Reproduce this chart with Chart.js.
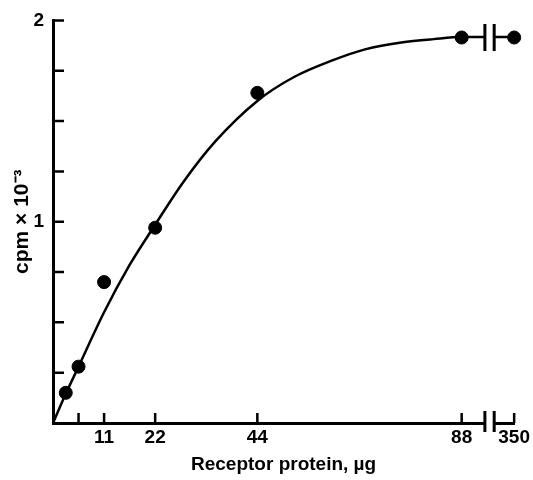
<!DOCTYPE html>
<html>
<head>
<meta charset="utf-8">
<script src="https://cdn.jsdelivr.net/npm/chart.js@4/dist/chart.umd.min.js"></script>
<style>
  html, body { margin: 0; padding: 0; background: #fff; }
  canvas { display: block; }
</style>
</head>
<body>
<canvas id="chart" width="533" height="480"></canvas>
<script>
// Measured points (receptor protein, µg vs cpm x 10^-3)
const doses = [2.75, 5.5, 11, 22, 44, 88, 350]
const cpm = [0.15, 0.28, 0.70, 0.97, 1.64, 1.915, 1.915]

// Hand-drawn saturation curve
const fitDoses = [0, 2.75, 5.5, 11, 16.5, 22, 28, 35, 44, 52, 60, 67, 75, 82, 88, 350]
const fitCpm = [0, 0.145, 0.28, 0.55, 0.785, 0.985, 1.195, 1.40, 1.60, 1.72, 1.80, 1.855, 1.89, 1.907, 1.917, 1.917]

const xTickValues = [5.5, 11, 22, 44, 88, 350]
const xTickLabels = ['', '11', '22', '44', '88', '350']
const yTickValues = [0, 0.25, 0.5, 0.75, 1, 1.25, 1.5, 1.75, 2]
const yTickLabels = ['', '', '', '', '1', '', '', '', '2']

// Broken x axis: everything past 88 is squeezed to one spot after the break
const LAST_LINEAR = 88
const BREAK_FROM = 93
const BREAK_TO = 95
const BREAK_POS = 99.3

function xPos (v) {
  return v > LAST_LINEAR ? BREAK_POS : v
}

const FONT = { family: '"Liberation Sans", Arial, sans-serif', size: 19, weight: 'bold' }

const axisBreak = {
  id: 'axisBreak',
  afterDatasetsDraw (chart) {
    const { ctx, chartArea, scales: { x, y } } = chart
    const x0 = x.getPixelForValue(BREAK_FROM)
    const x1 = x.getPixelForValue(BREAK_TO)
    const top = chartArea.top
    const bottom = chartArea.bottom
    const left = chartArea.left

    ctx.save()
    // gap in the curve and the axis
    ctx.fillStyle = '#fff'
    ctx.fillRect(x0, top - 10, x1 - x0, bottom - top + 14)

    ctx.strokeStyle = '#000'
    ctx.lineWidth = 3
    ctx.lineCap = 'butt'

    // break marks on the curve and on the axis
    const yc = y.getPixelForValue(fitCpm[fitCpm.length - 1])
    ctx.beginPath()
    for (const px of [x0, x1]) {
      ctx.moveTo(px, yc - 13)
      ctx.lineTo(px, yc + 14)
      ctx.moveTo(px, bottom - 12)
      ctx.lineTo(px, bottom + 9)
    }
    ctx.stroke()

    // inward tick marks
    ctx.lineWidth = 2.5
    ctx.beginPath()
    for (const v of yTickValues) {
      if (v === 0) continue
      const py = y.getPixelForValue(v)
      ctx.moveTo(left, py)
      ctx.lineTo(left + 11, py)
    }
    for (const v of xTickValues) {
      const px = x.getPixelForValue(xPos(v))
      ctx.moveTo(px, bottom)
      ctx.lineTo(px, bottom - 10)
    }
    ctx.stroke()
    ctx.restore()
  }
}

new Chart(document.getElementById('chart'), {
  type: 'scatter',
  data: {
    datasets: [
      {
        label: 'fit',
        data: fitDoses.map((d, i) => ({ x: xPos(d), y: fitCpm[i] })),
        showLine: true,
        borderColor: '#000',
        borderWidth: 2.5,
        pointRadius: 0,
        cubicInterpolationMode: 'monotone',
        clip: false
      },
      {
        label: 'measured',
        data: doses.map((d, i) => ({ x: xPos(d), y: cpm[i] })),
        showLine: false,
        backgroundColor: '#000',
        borderColor: '#000',
        pointRadius: 6.5,
        clip: false
      }
    ]
  },
  options: {
    responsive: false,
    animation: false,
    devicePixelRatio: 1,
    layout: { padding: { top: 16, right: 18, left: 0, bottom: 0 } },
    plugins: {
      legend: { display: false },
      tooltip: { enabled: false }
    },
    scales: {
      x: {
        type: 'linear',
        min: 0,
        max: BREAK_POS,
        afterFit (scale) { scale.height = 57 },
        afterBuildTicks (scale) {
          scale.ticks = xTickValues.map(v => ({ value: xPos(v) }))
        },
        grid: { drawOnChartArea: false, drawTicks: false },
        border: { display: true, color: '#000', width: 3 },
        ticks: {
          autoSkip: false,
          maxRotation: 0,
          padding: 3,
          color: '#000',
          font: FONT,
          callback: (value, index) => xTickLabels[index]
        },
        title: {
          display: true,
          text: 'Receptor protein, µg',
          color: '#000',
          font: FONT,
          padding: { top: 0, bottom: 4 }
        }
      },
      y: {
        type: 'linear',
        min: 0,
        max: 2,
        afterFit (scale) { scale.width = 53 },
        afterBuildTicks (scale) {
          scale.ticks = yTickValues.map(v => ({ value: v }))
        },
        grid: { drawOnChartArea: false, drawTicks: false },
        border: { display: true, color: '#000', width: 3 },
        ticks: {
          autoSkip: false,
          padding: 9,
          color: '#000',
          font: FONT,
          callback: (value, index) => yTickLabels[index]
        },
        title: {
          display: true,
          text: 'cpm × 10⁻³',
          color: '#000',
          font: { ...FONT, size: 21 },
          padding: { top: 10, bottom: 0 }
        }
      }
    }
  },
  plugins: [axisBreak]
})
</script>
</body>
</html>
